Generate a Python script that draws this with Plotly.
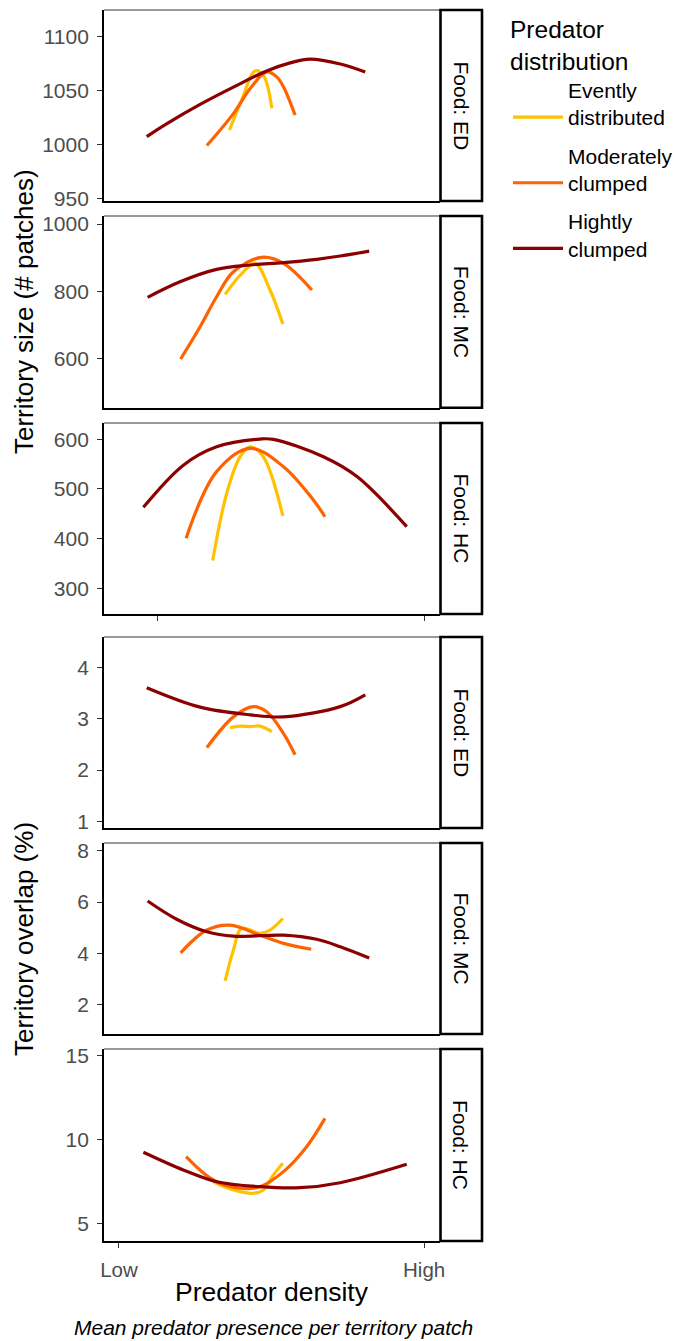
import plotly.graph_objects as go

# ---------------- data (x: predator density, 0 = Low, 1 = High) ----------------
# Territory size, Food: ED
SIZE_ED_EVEN_X = [0.362, 0.402, 0.446, 0.473, 0.501]
SIZE_ED_EVEN_Y = [1013.8, 1041.5, 1068.5, 1064.6, 1033.9]
SIZE_ED_MOD_X = [0.288, 0.375, 0.430, 0.484, 0.517, 0.539, 0.577]
SIZE_ED_MOD_Y = [999.4, 1029, 1052.3, 1067.6, 1063, 1053.8, 1027.7]
SIZE_ED_HIGH_X = [0.091, 0.156, 0.266, 0.375, 0.484, 0.561, 0.626, 0.725, 0.807]
SIZE_ED_HIGH_Y = [1007.7, 1019.5, 1037.5, 1053.5, 1068.5, 1076, 1079.5, 1075, 1067.6]

# Territory size, Food: MC
SIZE_MC_EVEN_X = [0.348, 0.400, 0.446, 0.495, 0.537]
SIZE_MC_EVEN_Y = [790.7, 850, 883, 803.6, 702]
SIZE_MC_MOD_X = [0.202, 0.266, 0.320, 0.375, 0.468, 0.539, 0.632]
SIZE_MC_MOD_Y = [598, 694, 783.6, 858, 901, 883, 803.6]
SIZE_MC_HIGH_X = [0.094, 0.200, 0.320, 0.430, 0.539, 0.648, 0.725, 0.820]
SIZE_MC_HIGH_Y = [781.8, 828, 865, 878, 885, 895, 904.8, 919.6]

# Territory size, Food: HC
SIZE_HC_EVEN_X = [0.307, 0.353, 0.397, 0.430, 0.473, 0.537]
SIZE_HC_EVEN_Y = [355.7, 491, 565, 585, 565, 445.7]
SIZE_HC_MOD_X = [0.220, 0.320, 0.430, 0.539, 0.637, 0.675]
SIZE_HC_MOD_Y = [400.8, 535, 582, 545, 478, 444]
SIZE_HC_HIGH_X = [0.080, 0.211, 0.320, 0.462, 0.506, 0.670, 0.780, 0.943]
SIZE_HC_HIGH_Y = [463, 548, 585, 600.6, 600, 565, 525, 424]

# Territory overlap, Food: ED
OVL_ED_EVEN_X = [0.364, 0.397, 0.430, 0.462, 0.501]
OVL_ED_EVEN_Y = [2.83, 2.86, 2.85, 2.86, 2.75]
OVL_ED_MOD_X = [0.288, 0.375, 0.440, 0.484, 0.539, 0.577]
OVL_ED_MOD_Y = [2.44, 3.04, 3.24, 3.14, 2.72, 2.30]
OVL_ED_HIGH_X = [0.091, 0.266, 0.430, 0.539, 0.725, 0.807]
OVL_ED_HIGH_Y = [3.61, 3.23, 3.08, 3.04, 3.24, 3.47]

# Territory overlap, Food: MC
OVL_MC_EVEN_X = [0.348, 0.375, 0.402, 0.462, 0.495, 0.537]
OVL_MC_EVEN_Y = [2.93, 4.13, 4.97, 4.78, 4.91, 5.36]
OVL_MC_MOD_X = [0.202, 0.288, 0.364, 0.462, 0.539, 0.630]
OVL_MC_MOD_Y = [4.02, 4.91, 5.10, 4.71, 4.39, 4.16]
OVL_MC_HIGH_X = [0.094, 0.189, 0.288, 0.375, 0.539, 0.648, 0.725, 0.820]
OVL_MC_HIGH_Y = [6.04, 5.33, 4.84, 4.67, 4.71, 4.55, 4.26, 3.82]

# Territory overlap, Food: HC
OVL_HC_EVEN_X = [0.309, 0.375, 0.440, 0.473, 0.506, 0.537]
OVL_HC_EVEN_Y = [7.48, 6.99, 6.79, 6.99, 7.88, 8.58]
OVL_HC_MOD_X = [0.220, 0.309, 0.397, 0.462, 0.539, 0.615, 0.675]
OVL_HC_MOD_Y = [8.97, 7.58, 7.09, 7.18, 8.08, 9.57, 11.26]
OVL_HC_HIGH_X = [0.080, 0.211, 0.320, 0.462, 0.593, 0.725, 0.943]
OVL_HC_HIGH_Y = [9.24, 8.18, 7.48, 7.18, 7.12, 7.42, 8.52]

SERIES_NAMES = ["Evently<br>distributed", "Moderately<br>clumped", "Hightly<br>clumped"]
SERIES_COLORS = ["#FFC200", "#FF6200", "#8B0000"]
STRIP_LABELS = ["Food: ED", "Food: MC", "Food: HC", "Food: ED", "Food: MC", "Food: HC"]

Y_TICKS = [
    [950, 1000, 1050, 1100],
    [600, 800, 1000],
    [300, 400, 500, 600],
    [1, 2, 3, 4],
    [2, 4, 6, 8],
    [5, 10, 15],
]
Y_RANGES = [
    [948, 1125],
    [453, 1024],
    [248, 633],
    [0.87, 4.6],
    [0.86, 8.3],
    [3.94, 15.4],
]
X_TICKS_TOP = [0.1256, 1.0]
X_TICKS_BOTTOM = [0.0, 1.0]
X_TICK_LABELS = ["Low", "High"]

PANELS = [
    [(SIZE_ED_EVEN_X, SIZE_ED_EVEN_Y), (SIZE_ED_MOD_X, SIZE_ED_MOD_Y), (SIZE_ED_HIGH_X, SIZE_ED_HIGH_Y)],
    [(SIZE_MC_EVEN_X, SIZE_MC_EVEN_Y), (SIZE_MC_MOD_X, SIZE_MC_MOD_Y), (SIZE_MC_HIGH_X, SIZE_MC_HIGH_Y)],
    [(SIZE_HC_EVEN_X, SIZE_HC_EVEN_Y), (SIZE_HC_MOD_X, SIZE_HC_MOD_Y), (SIZE_HC_HIGH_X, SIZE_HC_HIGH_Y)],
    [(OVL_ED_EVEN_X, OVL_ED_EVEN_Y), (OVL_ED_MOD_X, OVL_ED_MOD_Y), (OVL_ED_HIGH_X, OVL_ED_HIGH_Y)],
    [(OVL_MC_EVEN_X, OVL_MC_EVEN_Y), (OVL_MC_MOD_X, OVL_MC_MOD_Y), (OVL_MC_HIGH_X, OVL_MC_HIGH_Y)],
    [(OVL_HC_EVEN_X, OVL_HC_EVEN_Y), (OVL_HC_MOD_X, OVL_HC_MOD_Y), (OVL_HC_HIGH_X, OVL_HC_HIGH_Y)],
]

# ---------------- layout geometry (pixels) ----------------
W, H = 674, 1341
PX_LEFT, PX_RIGHT, STRIP_RIGHT = 104, 440, 482
PANEL_PX = [(10, 201), (216, 407.7), (423, 614), (637, 828), (843, 1034), (1049, 1241)]
X_RANGE = [-0.049, 1.052]
FONT = "Liberation Sans, Arial, sans-serif"


def py(p):
    return 1 - p / H


def px(p):
    return p / W


fig = go.Figure()
layout = dict(
    width=W, height=H,
    margin=dict(l=0, r=0, t=0, b=0, autoexpand=False),
    paper_bgcolor="white", plot_bgcolor="white",
    font=dict(family=FONT, color="black"),
    showlegend=True,
)
shapes = []
annotations = []

for i, series in enumerate(PANELS):
    n = i + 1
    xa = "x" if n == 1 else f"x{n}"
    ya = "y" if n == 1 else f"y{n}"
    for j, (xs, ys) in enumerate(series):
        fig.add_trace(go.Scatter(
            x=xs, y=ys, mode="lines", xaxis=xa, yaxis=ya,
            line=dict(color=SERIES_COLORS[j], width=3.2, shape="spline", smoothing=1.0),
            name=SERIES_NAMES[j], legendgroup=f"g{j}", showlegend=(i == 0),
            hoverinfo="skip",
        ))
    top, bot = PANEL_PX[i]
    is_bottom = i in (2, 5)
    xkey = "xaxis" if n == 1 else f"xaxis{n}"
    ykey = "yaxis" if n == 1 else f"yaxis{n}"
    layout[xkey] = dict(
        domain=[px(PX_LEFT), px(PX_RIGHT)], anchor=ya, range=X_RANGE,
        showgrid=False, zeroline=False, showline=True, linecolor="black", linewidth=1.8,
        ticks="outside" if is_bottom else "", ticklen=5, tickwidth=1.2, tickcolor="#333333",
        tickvals=(X_TICKS_BOTTOM if i == 5 else X_TICKS_TOP) if is_bottom else [],
        ticktext=X_TICK_LABELS if i == 5 else ["", ""],
        showticklabels=(i == 5),
        tickfont=dict(size=20.5, color="#4D4D4D", family=FONT),
        ticklabelstandoff=4,
    )
    layout[ykey] = dict(
        domain=[py(bot), py(top)], anchor=xa, range=Y_RANGES[i],
        showgrid=False, zeroline=False, showline=True, linecolor="black", linewidth=1.8,
        ticks="outside", ticklen=5, tickwidth=1.2, tickcolor="#333333",
        tickvals=Y_TICKS[i], tickfont=dict(size=21, color="#4D4D4D", family=FONT),
        ticklabelstandoff=4,
    )
    # thin top border of panel
    shapes.append(dict(type="line", xref="paper", yref="paper",
                       x0=px(PX_LEFT), x1=px(PX_RIGHT), y0=py(top), y1=py(top),
                       line=dict(color="#333333", width=1)))
    # strip
    shapes.append(dict(type="rect", xref="paper", yref="paper",
                       x0=px(PX_RIGHT + 0.5), x1=px(STRIP_RIGHT), y0=py(bot), y1=py(top),
                       line=dict(color="black", width=2.6), fillcolor="white"))
    annotations.append(dict(xref="paper", yref="paper",
                            x=px((PX_RIGHT + STRIP_RIGHT) / 2), y=py((top + bot) / 2),
                            text=STRIP_LABELS[i], textangle=90, showarrow=False,
                            font=dict(size=21, color="black", family=FONT),
                            xanchor="center", yanchor="middle"))

# axis titles
annotations += [
    dict(xref="paper", yref="paper", x=px(24), y=py(312), text="Territory size (# patches)",
         textangle=-90, showarrow=False, font=dict(size=26, color="black", family=FONT),
         xanchor="center", yanchor="middle"),
    dict(xref="paper", yref="paper", x=px(24), y=py(939), text="Territory overlap (%)",
         textangle=-90, showarrow=False, font=dict(size=26, color="black", family=FONT),
         xanchor="center", yanchor="middle"),
    dict(xref="paper", yref="paper", x=px(272), y=py(1292), text="Predator density",
         showarrow=False, font=dict(size=26.5, color="black", family=FONT),
         xanchor="center", yanchor="middle"),
    dict(xref="paper", yref="paper", x=px(273), y=py(1327),
         text="<i>Mean predator presence per territory patch</i>",
         showarrow=False, font=dict(size=21, color="black", family=FONT),
         xanchor="center", yanchor="middle"),
]

layout["shapes"] = shapes
layout["annotations"] = annotations
layout["legend"] = dict(
    x=px(508), y=py(6), xanchor="left", yanchor="top",
    title=dict(text="Predator<br>distribution", font=dict(size=24.5, color="black", family=FONT)),
    font=dict(size=21, color="black", family=FONT),
    traceorder="grouped", tracegroupgap=8, valign="bottom",
    itemwidth=50, bgcolor="rgba(0,0,0,0)",
)
fig.update_layout(**layout)
fig.write_html("out.html")
